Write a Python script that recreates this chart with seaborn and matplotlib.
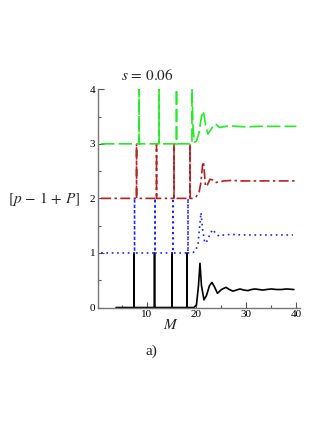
import pandas as pd
import matplotlib
matplotlib.use("Agg")
import matplotlib.pyplot as plt
import seaborn as sns

sns.set_style("ticks")
plt.rcParams["font.family"] = ["Liberation Serif", "DejaVu Serif"]
plt.rcParams["mathtext.fontset"] = "stix"

# black curve, P = 0
m0 = [3.9, 7.49, 7.5, 7.51, 11.59, 11.6, 11.61, 15.09, 15.1, 15.11, 18.09, 18.1, 18.11,
      19.5, 20.0, 20.4, 20.7, 21.0, 21.5, 22.0, 22.6, 23.1, 23.6, 24.2, 25.0, 25.9,
      26.6, 27.3, 28.0, 28.7, 29.5, 30.3, 31.0, 31.7, 32.5, 33.3, 34.0, 35.0, 36.0,
      37.0, 38.0, 39.5]
p0 = [0, 0, 1, 0, 0, 1, 0, 0, 1, 0, 0, 1, 0,
      0, 0.05, 0.4, 0.81, 0.4, 0.14, 0.22, 0.4, 0.46, 0.38, 0.26, 0.33, 0.37,
      0.33, 0.30, 0.32, 0.34, 0.32, 0.31, 0.33, 0.34, 0.33, 0.32, 0.33, 0.34, 0.33,
      0.33, 0.34, 0.33]

# blue dotted, P = 1
m1 = [0.9, 7.59, 7.6, 7.61, 11.69, 11.7, 11.71, 15.29, 15.3, 15.31, 18.29, 18.3, 18.31,
      19.2, 19.8, 20.3, 20.6, 20.9, 21.2, 21.6, 21.9, 22.4, 22.9, 23.3, 23.8, 24.5,
      25.5, 27.0, 29.0, 31.0, 33.0, 35.0, 37.0, 39.3]
p1 = [1, 1, 2, 1, 1, 2, 1, 1, 2, 1, 1, 2, 1,
      1.0, 1.04, 1.15, 1.45, 1.74, 1.45, 1.22, 1.18, 1.28, 1.38, 1.43, 1.36, 1.31,
      1.33, 1.34, 1.33, 1.33, 1.33, 1.33, 1.33, 1.33]

# red dash-dot, P = 2
m2 = [0.9, 7.99, 8.0, 8.01, 11.99, 12.0, 12.01, 15.49, 15.5, 15.51, 18.69, 18.7, 18.75,
      19.3, 19.9, 20.5, 20.9, 21.2, 21.4, 21.6, 21.8, 22.2, 22.7, 23.2, 23.8, 24.5,
      25.5, 27.0, 29.0, 31.0, 33.0, 35.0, 37.0, 40.0]
p2 = [2, 2, 3, 2, 2, 3, 2, 2, 3, 2, 2, 3, 2,
      2.0, 2.03, 2.1, 2.3, 2.6, 2.67, 2.45, 2.22, 2.25, 2.35, 2.34, 2.29, 2.3,
      2.32, 2.33, 2.32, 2.32, 2.32, 2.32, 2.32, 2.32]

# green dashed, P = 3
m3 = [0.9, 8.49, 8.5, 8.51, 12.49, 12.5, 12.51, 15.99, 16.0, 16.01, 19.09, 19.1, 19.3,
      19.6, 20.0, 20.5, 21.0, 21.4, 21.8, 22.3, 22.8, 23.3, 23.9, 24.6, 25.3, 26.5,
      28.0, 30.0, 32.0, 34.0, 36.0, 38.0, 40.0]
p3 = [3, 3, 4, 3, 3, 4, 3, 3, 4, 3, 3, 4, 3.3,
      3.03, 3.05, 3.2, 3.5, 3.6, 3.35, 3.18, 3.25, 3.32, 3.36, 3.3, 3.31, 3.33,
      3.32, 3.31, 3.32, 3.32, 3.32, 3.32, 3.32]

fig = plt.figure(figsize=(3.27, 4.23), dpi=100)
ax = fig.add_axes([0.300, 0.273, 0.617, 0.516])

sns.lineplot(x=m0, y=p0, sort=False, estimator=None, color="black", lw=1.2, ax=ax)
sns.lineplot(x=m1, y=p1, sort=False, estimator=None, color="#1f1fff", lw=1.2,
             linestyle=(0, (1, 2.2)), ax=ax)
sns.lineplot(x=m2, y=p2, sort=False, estimator=None, color="#b22222", lw=1.2,
             linestyle=(0, (6, 2, 1.5, 2)), ax=ax)
sns.lineplot(x=m3, y=p3, sort=False, estimator=None, color="#22ee22", lw=1.2,
             linestyle=(0, (8, 2.5)), ax=ax)

ax.set_xlim(0.3, 40.7)
ax.set_ylim(0, 4)
ax.set_xticks([10, 20, 30, 40])
ax.set_xticks([5, 15, 25, 35], minor=True)
ax.set_yticks([0, 1, 2, 3, 4])
ax.set_yticks([0.5, 1.5, 2.5, 3.5], minor=True)
ax.tick_params(which="both", direction="in", labelsize=8, colors="#555555",
               labelcolor="black", pad=2)
ax.tick_params(which="major", length=4, width=0.8)
ax.tick_params(which="minor", length=2, width=0.8)
sns.despine(ax=ax)
for s in ["left", "bottom"]:
    ax.spines[s].set_color("#777777")
    ax.spines[s].set_linewidth(1.0)
ax.set_xlabel("")
ax.set_ylabel("")

fig.text(147 / 327, 1 - 75 / 423, r"$s\,=\,0.06$", ha="center", va="center", fontsize=11)
fig.text(44 / 327, 1 - 199 / 423, r"$[p\,-\,1\,+\,P]$", ha="center", va="center", fontsize=11)
fig.text(171 / 327, 1 - 325 / 423, r"$M$", ha="center", va="center", fontsize=11)
fig.text(151 / 327, 1 - 351 / 423, "a)", ha="center", va="center", fontsize=11)

fig.savefig("out.png", dpi=100)
